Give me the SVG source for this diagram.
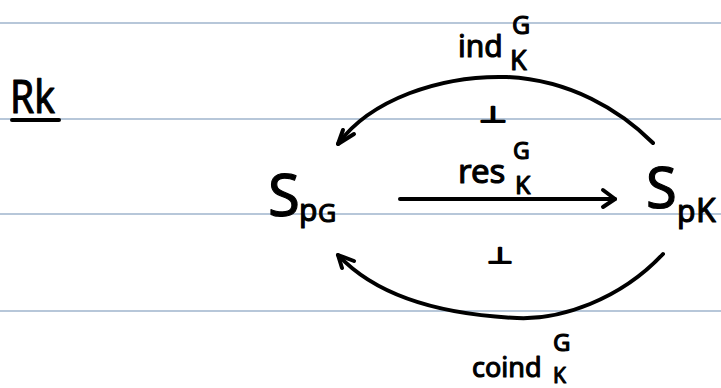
<svg xmlns="http://www.w3.org/2000/svg" width="721" height="388" viewBox="0 0 721 388">
  <style>
    .rule { stroke: #b7c7d9; stroke-width: 2; }
    .ink { fill: none; stroke: #000; stroke-width: 4; stroke-linecap: round; stroke-linejoin: round; }
    .txt { font-family: "Noto Sans", "DejaVu Sans", sans-serif; fill: #000; stroke: #000; stroke-width: 1.1; stroke-linejoin: round; }
    .sym { font-family: "DejaVu Sans", sans-serif; fill: #000; stroke: #000; stroke-width: 1.8; stroke-linejoin: round; }
  </style>

  <rect width="721" height="388" fill="#ffffff"/>

  <!-- ruled paper lines -->
  <g id="ruling">
    <line class="rule" x1="0" y1="23" x2="721" y2="23"/>
    <line class="rule" x1="0" y1="119" x2="721" y2="119"/>
    <line class="rule" x1="0" y1="214" x2="721" y2="214"/>
    <line class="rule" x1="0" y1="311" x2="721" y2="311"/>
  </g>

  <!-- heading -->
  <g id="heading">
    <text class="txt" x="10" y="113" font-size="46" textLength="45" lengthAdjust="spacingAndGlyphs">Rk</text>
    <line class="ink" x1="12" y1="120" x2="59" y2="120" stroke-width="3.5"/>
  </g>

  <!-- objects -->
  <g id="node-spg">
    <text class="txt"><tspan x="268" y="216" font-size="58">S</tspan><tspan x="299" y="221" font-size="30">p</tspan><tspan x="318" y="222" font-size="25">G</tspan></text>
  </g>

  <g id="node-spk">
    <text class="txt"><tspan x="646" y="208" font-size="56">S</tspan><tspan x="677" y="222" font-size="30">p</tspan><tspan x="696" y="222" font-size="32">K</tspan></text>
  </g>

  <!-- functors between the two categories -->
  <g id="connectors">
    <!-- induction: Sp_K to Sp_G, over the top -->
    <g id="edge-ind">
      <path class="ink" d="M653,143 C620,110 570,80 507,77 C440,75 370,100 338,144"/>
      <path class="ink" d="M343,130 L338,144 L354,134"/>
      <text class="txt"><tspan x="458" y="57" font-size="30">ind</tspan><tspan x="512" y="34" font-size="25">G</tspan><tspan x="510" y="70" font-size="27">K</tspan></text>
      <text class="sym" x="479" y="122" font-size="22" textLength="28" lengthAdjust="spacingAndGlyphs">⊥</text>
    </g>

    <!-- restriction: Sp_G to Sp_K, straight across -->
    <g id="edge-res">
      <path class="ink" d="M400,199 L615,199"/>
      <path class="ink" d="M603,190 L615,199 L603,207"/>
      <text class="txt"><tspan x="458" y="183" font-size="33">res</tspan><tspan x="513" y="159" font-size="23">G</tspan><tspan x="515" y="194" font-size="25">K</tspan></text>
    </g>

    <!-- coinduction: Sp_K to Sp_G, underneath -->
    <g id="edge-coind">
      <path class="ink" d="M663,254 C620,300 560,320 517,318 C450,315 380,300 338,255"/>
      <path class="ink" d="M354,261 L338,255 L342,268"/>
      <text class="txt"><tspan x="472" y="377" font-size="27">coind</tspan><tspan x="553" y="351" font-size="24">G</tspan><tspan x="553" y="383" font-size="21">K</tspan></text>
      <text class="sym" x="487" y="263" font-size="22" textLength="26" lengthAdjust="spacingAndGlyphs">⊥</text>
    </g>
  </g>
</svg>
